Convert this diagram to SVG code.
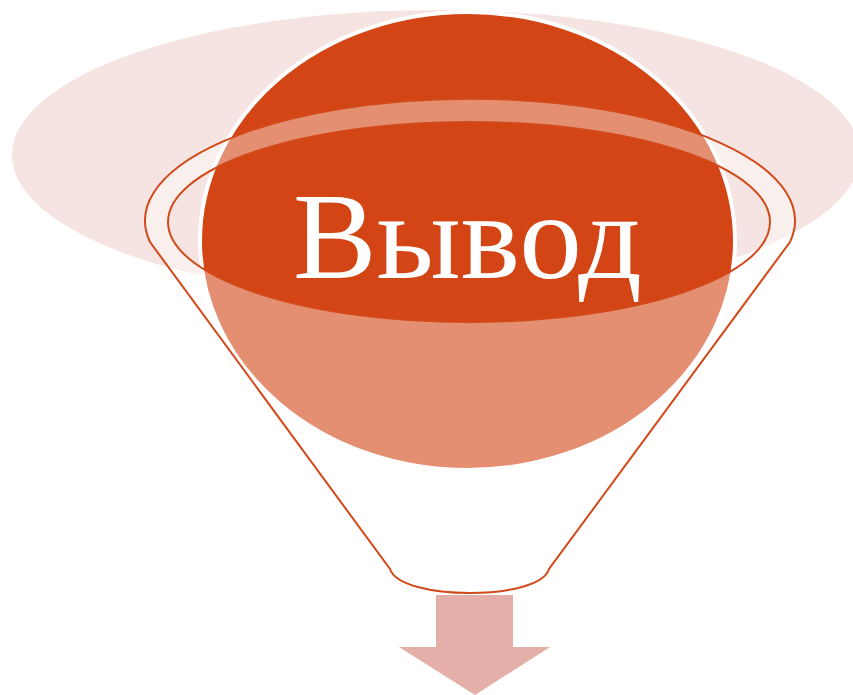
<svg xmlns="http://www.w3.org/2000/svg" width="853" height="695" viewBox="0 0 853 695">
<style>
.line{fill:none;stroke:#D2491A;stroke-width:2}
.label{font-family:"Liberation Serif","DejaVu Serif",serif;font-size:122px;fill:#FFFFFF}
</style>
<rect width="853" height="695" fill="#FFFFFF"/>
<g id="background">
<ellipse cx="436" cy="155" rx="424" ry="145" fill="#F5E4E2"/>
</g>
<g id="ball">
<ellipse cx="467.5" cy="241" rx="267.5" ry="229" fill="#D34514" stroke="#FFFFFF" stroke-width="4"/>
</g>
<g id="funnel">
<path fill="#FFFFFF" fill-opacity="0.4" fill-rule="evenodd" d="M150 242 A325 122 0 1 1 790 242 L549 569 C540 601 400 601 390 569 Z M168 222 A301 100 0 1 0 770 222 A301 100 0 1 0 168 222 Z"/>
<path class="line" d="M150 242 A325 122 0 1 1 790 242 L549 569 C540 601 400 601 390 569 Z"/>
<ellipse class="line" cx="469" cy="222" rx="301" ry="100"/>
</g>
<g id="title">
<text class="label" x="467.5" y="278" text-anchor="middle" textLength="349" lengthAdjust="spacingAndGlyphs">Вывод</text>
</g>
<g id="arrow">
<path d="M436 595 H513 V647 H550 L475 695 L399 647 H436 Z" fill="#E4AFA9"/>
</g>
</svg>
